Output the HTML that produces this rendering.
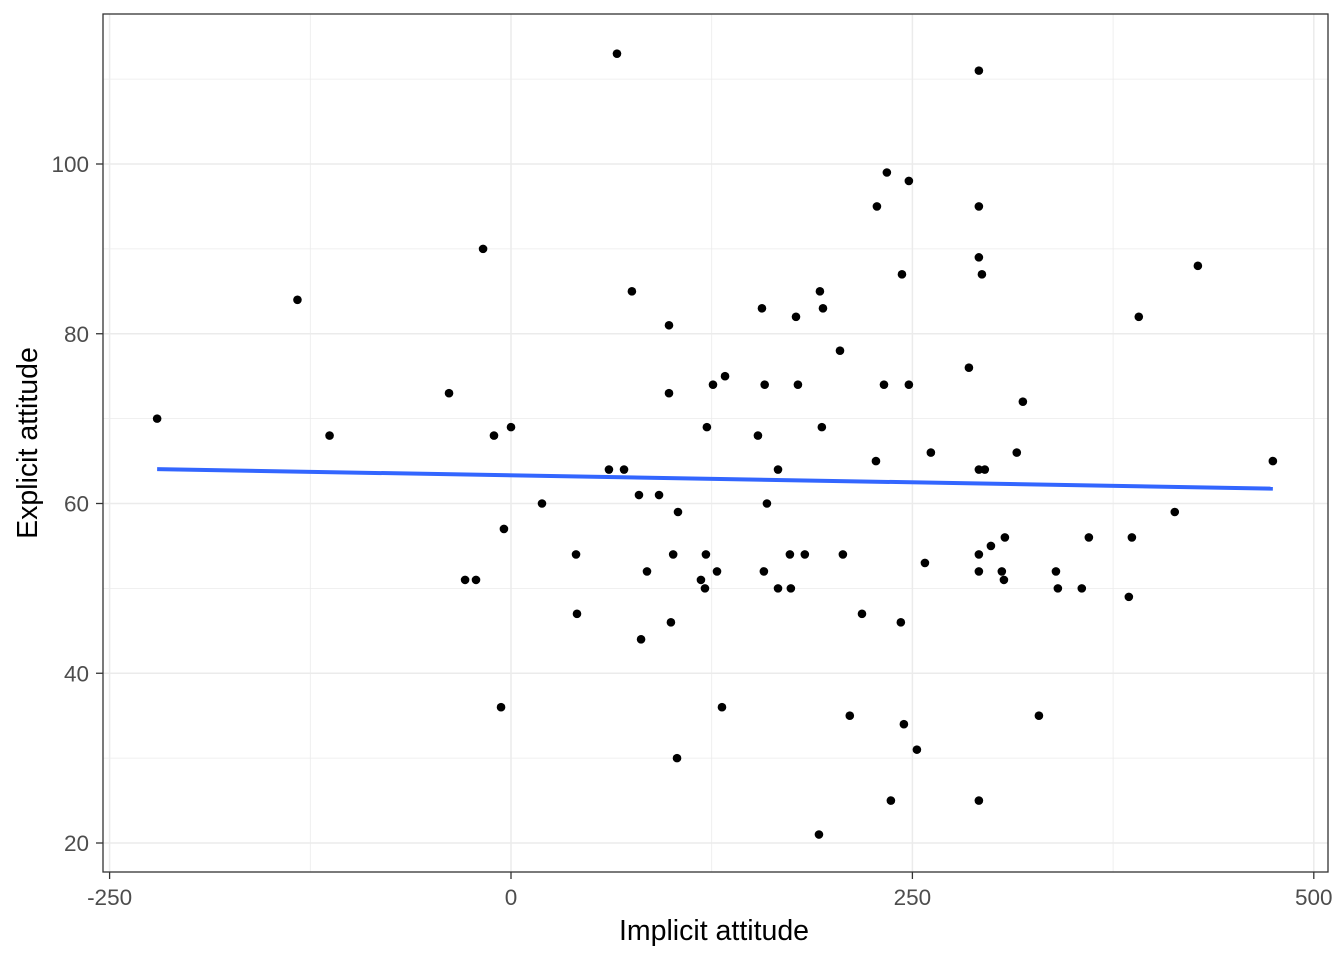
<!DOCTYPE html>
<html><head><meta charset="utf-8"><style>
body{margin:0;background:#fff}
svg text{font-family:"Liberation Sans",Arial,sans-serif}
</style></head><body>
<svg id="chart" width="1344" height="960" xmlns="http://www.w3.org/2000/svg">
<g id="grid"></g>
<g id="line"></g>
<g id="points"></g>
<rect x="103" y="14" width="1225" height="858" fill="none" stroke="#333" stroke-width="1.3"/>
<g id="axes"></g>
<text x="714" y="940" font-size="28.5" text-anchor="middle" fill="#000">Implicit attitude</text>
<text transform="translate(37,443) rotate(-90)" font-size="28.5" text-anchor="middle" fill="#000">Explicit attitude</text>
</svg>
<script>
const xs=[-220.4,-133,-113,-38.6,-17.4,-28.6,-21.8,-10.6,0,-4.4,-6.2,19.3,40.5,41.1,66,61,70.4,75.3,79.7,84.7,81,92.2,98.4,98.4,101,99.6,104,103.4,118.3,120.8,121.4,122,125.8,128.3,133.3,131.4,153.8,156.3,158,157.5,159.4,166.3,166.3,173.7,174.3,177.5,178.7,183,192.4,194.3,193.6,191.8,204.9,206.7,211,218.6,227.9,227.3,234.1,232.3,236.6,247.8,243.5,247.8,242.8,244.7,252.8,261.5,257.8,285.2,291.4,291.4,291.4,293.3,291.4,295.1,291.4,291.4,291.4,298.9,307.6,305.7,307,315,318.8,328.8,339.4,340.6,355.5,359.9,384.8,386.7,391,413.4,427.8,474.5];
const ys=[70,84,68,73,90,51,51,68,69,57,36,60,54,47,113,64,64,85,61,52,44,61,81,73,54,46,59,30,51,50,54,69,74,52,75,36,68,83,74,52,60,64,50,54,50,82,74,54,85,83,69,21,78,54,35,47,95,65,99,74,25,98,87,74,46,34,31,66,53,76,111,95,89,87,64,64,54,52,25,55,56,52,51,66,72,35,52,50,50,56,49,56,82,59,88,65];
const xTicks=[-250,0,250,500];
const xMinor=[-125,125,375];
const yTicks=[20,40,60,80,100];
const yMinor=[30,50,70,90,110];
const NS="http://www.w3.org/2000/svg";
const X=v=>511+v*1.6056;
const Y=v=>503.5-(v-60)*8.4875;
function mk(t,a,p){const e=document.createElementNS(NS,t);for(const k in a)e.setAttribute(k,a[k]);p.appendChild(e);return e;}
const g=document.getElementById('grid'),ax=document.getElementById('axes');
xMinor.forEach(v=>{const l=mk('line',{x1:X(v),x2:X(v),y1:14,y2:872,stroke:'#ebebeb','stroke-width':0.8},g);

});
yMinor.forEach(v=>{const l=mk('line',{x1:103,x2:1328,y1:Y(v),y2:Y(v),stroke:'#ebebeb','stroke-width':0.8},g);

});
xTicks.forEach(v=>{const l=mk('line',{x1:X(v),x2:X(v),y1:14,y2:872,stroke:'#ebebeb','stroke-width':1.5},g);


const t=mk('line',{x1:X(v),x2:X(v),y1:872,y2:879,stroke:'#333','stroke-width':1.3},ax);


const tx=mk('text',{x:X(v),y:905,'font-size':22.5,'text-anchor':'middle',fill:'#4d4d4d'},ax);tx.textContent=v;

});
yTicks.forEach(v=>{const l=mk('line',{x1:103,x2:1328,y1:Y(v),y2:Y(v),stroke:'#ebebeb','stroke-width':1.5},g);


const t=mk('line',{x1:96,x2:103,y1:Y(v),y2:Y(v),stroke:'#333','stroke-width':1.3},ax);


const tx=mk('text',{x:89,y:Y(v)+8,'font-size':22.5,'text-anchor':'end',fill:'#4d4d4d'},ax);tx.textContent=v;

});
const n=xs.length,mx=xs.reduce((a,b)=>a+b)/n,my=ys.reduce((a,b)=>a+b)/n;
let sxy=0,sxx=0;for(let i=0;i<n;i++){sxy+=(xs[i]-mx)*(ys[i]-my);sxx+=(xs[i]-mx)**2;}
const b=sxy/sxx,a=my-b*mx,x0=Math.min(...xs),x1=Math.max(...xs);
const ln=mk('line',{x1:X(x0),y1:Y(a+b*x0),x2:X(x1),y2:Y(a+b*x1),stroke:'#3366ff','stroke-width':4},document.getElementById('line'));


const pg=document.getElementById('points');
xs.forEach((v,i)=>{const c=mk('circle',{cx:X(v),cy:Y(ys[i]),r:4.3,fill:'#000'},pg);

});
</script>
</body></html>
